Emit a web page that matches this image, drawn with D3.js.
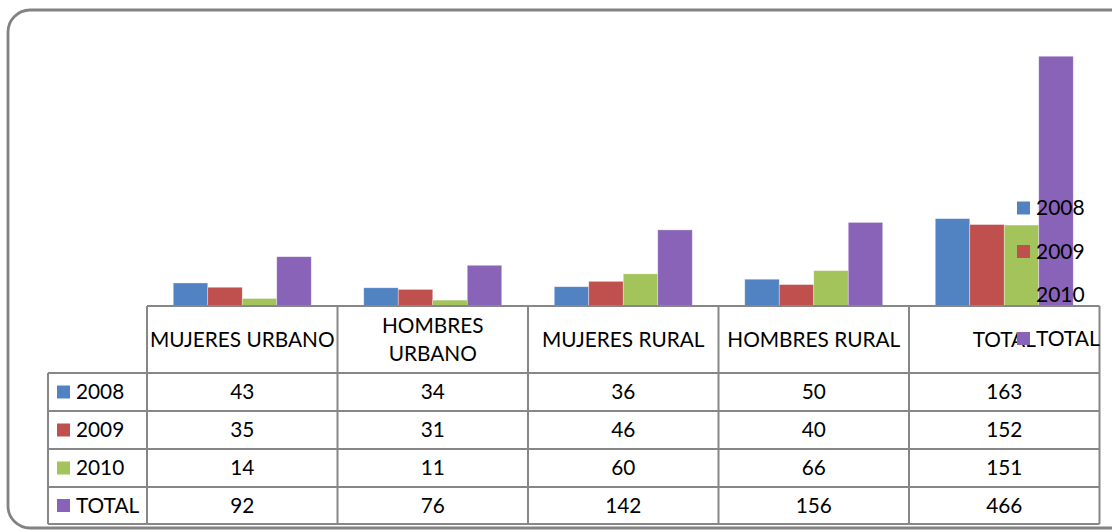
<!DOCTYPE html>
<html>
<head>
<meta charset="utf-8">
<script src="https://cdn.jsdelivr.net/npm/d3@7"></script>
<style>
  body { margin: 0; background: #fff; }
  svg { display: block; font-family: Lato, "Open Sans", sans-serif; }
</style>
</head>
<body>
<svg class="chart" width="1112" height="531"></svg>
<script>
// data
var categories = ["MUJERES URBANO", "HOMBRES URBANO", "MUJERES RURAL", "HOMBRES RURAL", "TOTAL"];
var categoryLines = [["MUJERES URBANO"], ["HOMBRES", "URBANO"], ["MUJERES RURAL"], ["HOMBRES RURAL"], ["TOTAL"]];
var series = ["2008", "2009", "2010", "TOTAL"];
var values2008 = [43, 34, 36, 50, 163];
var values2009 = [35, 31, 46, 40, 152];
var values2010 = [14, 11, 60, 66, 151];
var valuesTotal = [92, 76, 142, 156, 466];
var colors = ["#5183C2", "#C0504D", "#A2C45A", "#8963B8"];

var rows = [values2008, values2009, values2010, valuesTotal];

var svg = d3.select(".chart");

// chart frame
svg.append("rect")
    .attr("x", 8).attr("y", 10)
    .attr("width", 1130).attr("height", 518)
    .attr("rx", 22).attr("ry", 22)
    .attr("fill", "#fff")
    .attr("stroke", "#828282")
    .attr("stroke-width", 2.8);

var left = 147, right = 1099.5, baseline = 306;
var labelLeft = 48;
var rowTops = [306, 373, 411, 449, 487, 524];
var fs = 20.8;

var x0 = d3.scaleBand().domain(categories).range([left, right]);
var x1 = d3.scaleBand().domain(series).range([0, x0.bandwidth()]).paddingOuter(0.761);
var y = d3.scaleLinear().domain([0, 500]).range([baseline, 38]);

// bars
var groups = svg.append("g").attr("class", "bars")
    .selectAll("g")
    .data(categories)
    .enter().append("g")
    .attr("transform", function(d) { return "translate(" + x0(d) + ",0)"; });

groups.selectAll("rect")
    .data(function(d, i) {
        return series.map(function(s, j) { return { s: s, v: rows[j][i], c: colors[j] }; });
    })
    .enter().append("rect")
    .attr("x", function(d) { return x1(d.s); })
    .attr("y", function(d) { return y(d.v); })
    .attr("width", x1.bandwidth())
    .attr("height", function(d) { return baseline - y(d.v); })
    .attr("fill", function(d) { return d.c; })
    .attr("stroke", "rgba(255,255,255,0.5)")
    .attr("stroke-width", 0.7);

// data table
var table = svg.append("g").attr("class", "table");
var lineColor = "#878787";

// horizontal lines
table.append("line")
    .attr("x1", left).attr("x2", right)
    .attr("y1", rowTops[0]).attr("y2", rowTops[0])
    .attr("stroke", lineColor).attr("stroke-width", 2);
rowTops.slice(1).forEach(function(t) {
    table.append("line")
        .attr("x1", labelLeft).attr("x2", right)
        .attr("y1", t).attr("y2", t)
        .attr("stroke", lineColor).attr("stroke-width", 2);
});

// vertical lines
table.append("line")
    .attr("x1", labelLeft).attr("x2", labelLeft)
    .attr("y1", rowTops[1]).attr("y2", rowTops[5])
    .attr("stroke", lineColor).attr("stroke-width", 2);
categories.forEach(function(c) {
    table.append("line")
        .attr("x1", x0(c)).attr("x2", x0(c))
        .attr("y1", rowTops[0]).attr("y2", rowTops[5])
        .attr("stroke", lineColor).attr("stroke-width", 2);
});
table.append("line")
    .attr("x1", right).attr("x2", right)
    .attr("y1", rowTops[0]).attr("y2", rowTops[5])
    .attr("stroke", lineColor).attr("stroke-width", 2);

// category headers
categories.forEach(function(c, i) {
    var lines = categoryLines[i];
    var cy = (rowTops[0] + rowTops[1]) / 2;
    var lh = 28;
    var t = table.append("text")
        .attr("text-anchor", "middle")
        .attr("font-size", fs)
        .attr("fill", "#000");
    lines.forEach(function(l, k) {
        t.append("tspan")
            .attr("x", x0(c) + x0.bandwidth() / 2)
            .attr("y", cy + (k - (lines.length - 1) / 2) * lh)
            .attr("dy", "0.35em")
            .text(l);
    });
});

// value rows
series.forEach(function(s, j) {
    var cy = (rowTops[j + 1] + rowTops[j + 2]) / 2;
    table.append("rect")
        .attr("x", 57).attr("y", cy - 6.5)
        .attr("width", 13).attr("height", 13)
        .attr("fill", colors[j]);
    table.append("text")
        .attr("x", 76).attr("y", cy).attr("dy", "0.35em")
        .attr("font-size", fs)
        .text(s);
    categories.forEach(function(c, i) {
        table.append("text")
            .attr("x", x0(c) + x0.bandwidth() / 2)
            .attr("y", cy).attr("dy", "0.35em")
            .attr("text-anchor", "middle")
            .attr("font-size", fs)
            .text(rows[j][i]);
    });
});

// legend (drawn on top, overlaps the table like the original)
var legend = svg.append("g").attr("class", "legend");
series.forEach(function(s, j) {
    var ly = 208 + j * 43.5;
    legend.append("text")
        .attr("x", 1036).attr("y", ly).attr("dy", "0.35em")
        .attr("font-size", 21)
        .text(s);
    legend.append("rect")
        .attr("x", 1017).attr("y", ly - 6.5)
        .attr("width", 13).attr("height", 13)
        .attr("fill", colors[j]);
});
</script>
</body>
</html>
